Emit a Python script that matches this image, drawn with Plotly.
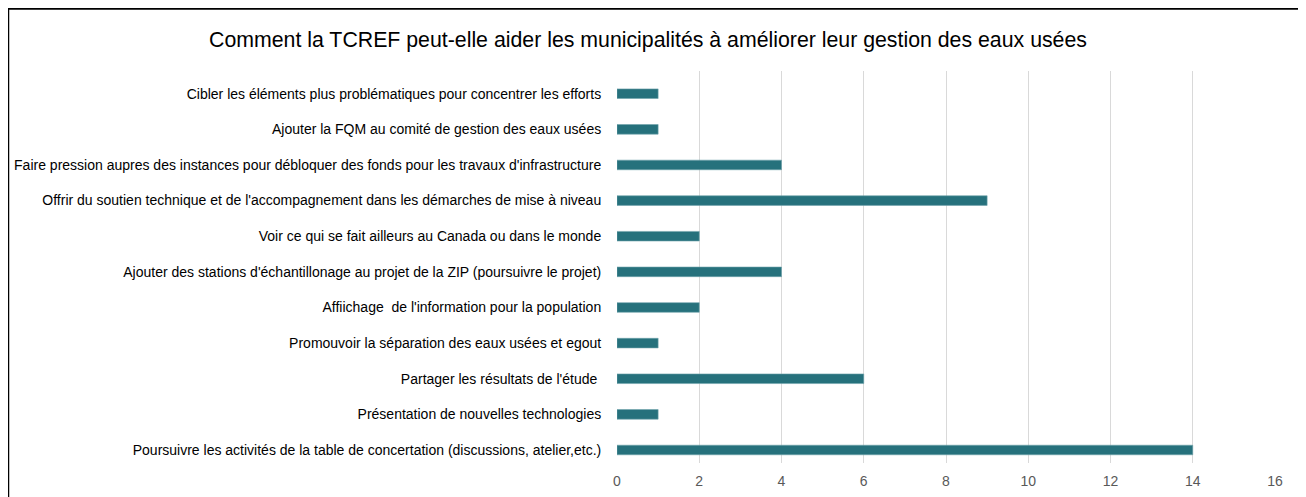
import plotly.graph_objects as go

categories = [
    "Cibler les éléments plus problématiques pour concentrer les efforts",
    "Ajouter la FQM au comité de gestion des eaux usées",
    "Faire pression aupres des instances pour débloquer des fonds pour les travaux d'infrastructure",
    "Offrir du soutien technique et de l'accompagnement dans les démarches de mise à niveau",
    "Voir ce qui se fait ailleurs au Canada ou dans le monde",
    "Ajouter des stations d'échantillonage au projet de la ZIP (poursuivre le projet)",
    "Affiichage  de l'information pour la population",
    "Promouvoir la séparation des eaux usées et egout",
    "Partager les résultats de l'étude ",
    "Présentation de nouvelles technologies",
    "Poursuivre les activités de la table de concertation (discussions, atelier,etc.)",
]
values = [1, 1, 4, 9, 2, 4, 2, 1, 6, 1, 14]
x_ticks = [0, 2, 4, 6, 8, 10, 12, 14, 16]
title = "Comment la TCREF peut-elle aider les municipalités à améliorer leur gestion des eaux usées"

# page has an 8px body margin; figure coords = screen coords - 8
OFF = 8
W, H = 1306 - OFF, 497 - OFF
L, R, T, B = 617 - OFF, 31, 71 - OFF, 34
pw, ph = W - L - R, H - T - B

def px(x):
    return (x - OFF - L) / pw

def py(y):
    return (H - B - (y - OFF)) / ph

FONT = "Liberation Sans Narrow, Liberation Sans, sans-serif"

fig = go.Figure(go.Bar(
    x=values, y=categories, orientation="h",
    width=0.27,
    marker=dict(color="#26717C", line=dict(color="#6fa3ab", width=0.6)),
))

fig.update_layout(
    width=W, height=H,
    margin=dict(l=L, r=R, t=T, b=B, pad=0, autoexpand=False),
    paper_bgcolor="white", plot_bgcolor="white",
    showlegend=False,
    title=dict(text=title, x=(648 - OFF) / W, xanchor="center", y=1 - (40 - OFF) / H, yanchor="middle",
               font=dict(family=FONT, size=21.3, color="#000000")),
    xaxis=dict(range=[0, 16], tickvals=x_ticks, showgrid=True, gridcolor="#d9d9d9", gridwidth=1,
               zeroline=False, showline=False, ticks="outside", ticklen=5, tickcolor="rgba(0,0,0,0)",
               automargin=False,
               tickfont=dict(family=FONT, size=14, color="#595959")),
    yaxis=dict(type="category", categoryorder="array", categoryarray=categories,
               range=[10.365, -0.637], showgrid=False, zeroline=False, showline=False,
               ticks="outside", ticklen=12, tickcolor="rgba(0,0,0,0)", automargin=False,
               tickfont=dict(family=FONT, size=14, color="#000000")),
    shapes=[dict(type="rect", xref="paper", yref="paper",
                 x0=px(8), x1=px(1301), y0=py(520), y1=py(8.5),
                 line=dict(color="black", width=2.5), fillcolor="rgba(0,0,0,0)", layer="below")],
)

fig.write_html("out.html")
